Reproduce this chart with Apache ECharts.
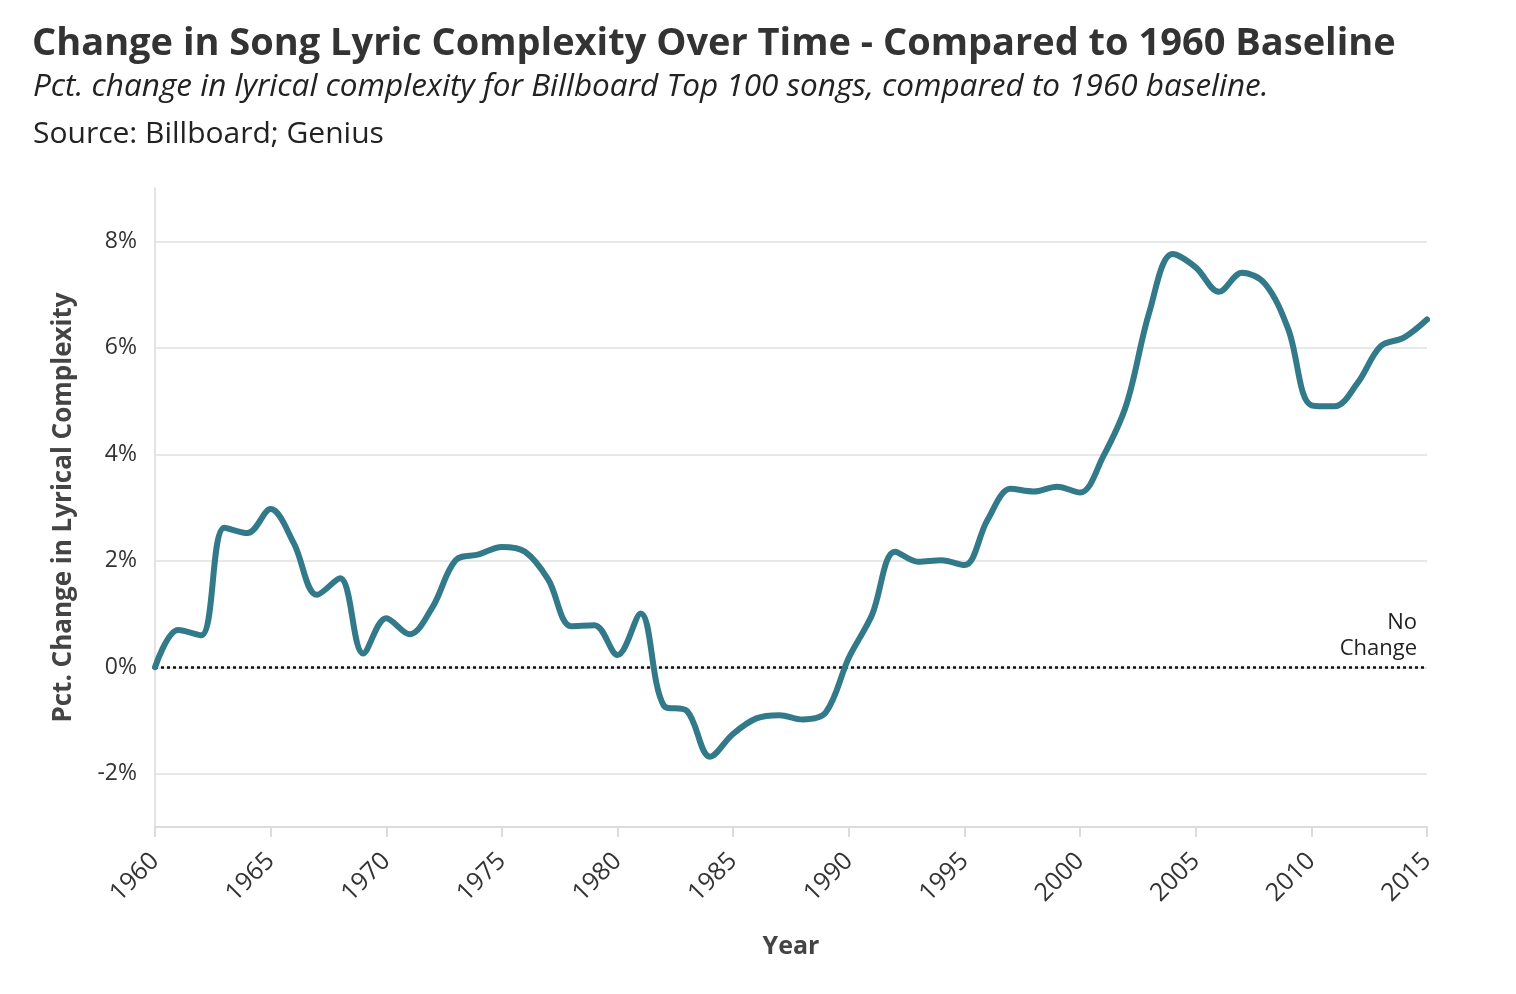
<!DOCTYPE html>
<html>
<head>
<meta charset="utf-8">
<script src="https://cdn.jsdelivr.net/npm/echarts@6/dist/echarts.min.js"></script>
<style>
html,body{margin:0;padding:0;background:#fff;}
#chart{width:1516px;height:994px;}
</style>
</head>
<body>
<div id="chart"></div>
<script>
const titleText = 'Change in Song Lyric Complexity Over Time - Compared to 1960 Baseline';
const subtitleText = 'Pct. change in lyrical complexity for Billboard Top 100 songs, compared to 1960 baseline.';
const sourceText = 'Source: Billboard; Genius';
const years = [];
for (let y = 1960; y <= 2015; y++) years.push(y);
const pctChange = [
  0.00, 0.70, 0.60, 2.62, 2.52, 2.97, 2.33, 1.36, 1.67, 0.26,
  0.92, 0.62, 1.13, 2.01, 2.12, 2.26, 2.17, 1.65, 0.77, 0.79,
  0.23, 1.01, -0.72, -0.82, -1.68, -1.25, -0.96, -0.90, -0.98, -0.85,
  0.18, 0.98, 2.17, 1.98, 2.01, 1.92, 2.77, 3.35, 3.30, 3.39,
  3.28, 3.96, 4.93, 6.68, 7.76, 7.51, 7.05, 7.41, 7.20, 6.35,
  4.92, 4.90, 5.34, 6.03, 6.19, 6.53
];
const yTickLabels = ['-2%', '0%', '2%', '4%', '6%', '8%'];
const xTickLabels = ['1960','1965','1970','1975','1980','1985','1990','1995','2000','2005','2010','2015'];
const baselineLabel = 'No\nChange';

const seriesData = years.map((y, i) => [y, pctChange[i]]);
const chart = echarts.init(document.getElementById('chart'));
const font = '"Open Sans", Roboto, sans-serif';
const option = {
  backgroundColor: '#fff',
  animation: false,
  title: [
    { text: titleText, left: 27, top: 20, textStyle: { fontFamily: font, fontWeight: 'bold', fontSize: 38, color: '#333' } },
    { text: subtitleText, left: 28, top: 66, textStyle: { fontFamily: font, fontStyle: 'italic', fontWeight: 'normal', fontSize: 31.5, color: '#222' } },
    { text: sourceText, left: 28, top: 114, textStyle: { fontFamily: font, fontWeight: 'normal', fontSize: 30, color: '#222' } }
  ],
  grid: { left: 155, right: 89, top: 188, bottom: 167 },
  xAxis: {
    type: 'value', min: 1960, max: 2015, interval: 5,
    name: 'Year', nameLocation: 'middle', nameGap: 107,
    nameTextStyle: { fontFamily: font, fontWeight: 'bold', fontSize: 25, color: '#444' },
    axisLine: { show: true, onZero: false, lineStyle: { color: '#dcdcdc', width: 2 } },
    axisTick: { show: true, inside: false, length: 10, lineStyle: { color: '#dcdcdc', width: 2 } },
    splitLine: { show: false },
    axisLabel: {
      rotate: 45, fontFamily: font, fontSize: 25, color: '#333', margin: 30,
      formatter: v => xTickLabels[xTickLabels.indexOf(String(v))] || ''
    }
  },
  yAxis: {
    type: 'value', min: -3, max: 9, interval: 1,
    name: 'Pct. Change in Lyrical Complexity', nameLocation: 'middle', nameGap: 78,
    nameTextStyle: { fontFamily: font, fontWeight: 'bold', fontSize: 26, color: '#444' },
    axisLine: { show: true, onZero: false, lineStyle: { color: '#e3e3e3', width: 2 } },
    axisTick: { show: false },
    splitLine: { show: true, lineStyle: { color: ['rgba(0,0,0,0)', '#e8e8e8'], width: 2 } },
    axisLabel: {
      fontFamily: font, fontSize: 23, color: '#333', margin: 18,
      formatter: v => { const s = v + '%'; return yTickLabels.includes(s) ? s : ''; }
    }
  },
  series: [{
    type: 'line',
    data: seriesData,
    smooth: 0.35,
    showSymbol: false,
    lineStyle: { color: '#327a8a', width: 6, cap: 'round', join: 'round' },
    z: 3,
    markLine: {
      silent: true, symbol: ['none', 'none'],
      data: [{ yAxis: 0 }],
      lineStyle: { color: '#111', type: [3, 3], width: 2.5 },
      label: {
        show: true, position: 'insideEndTop', formatter: baselineLabel,
        fontFamily: font, fontSize: 22, color: '#222', align: 'right', lineHeight: 26, distance: [10, 6]
      },
      z: 2
    }
  }]
};
chart.setOption(option);
</script>
</body>
</html>
